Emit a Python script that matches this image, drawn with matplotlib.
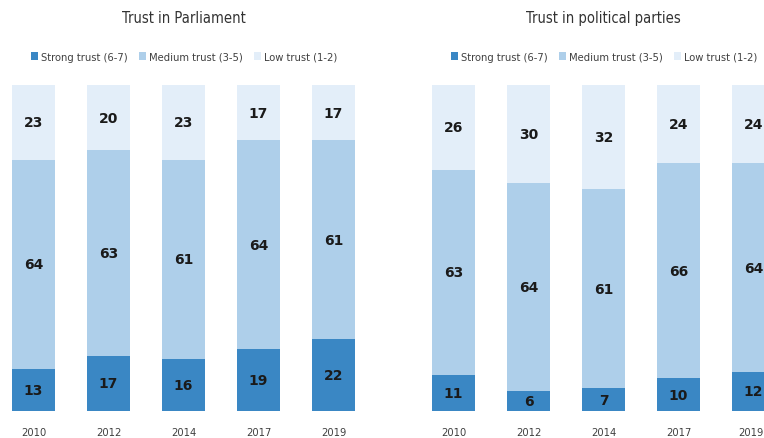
import numpy as np
import matplotlib.pyplot as plt
from matplotlib.patches import Patch
from matplotlib.transforms import blended_transform_factory, ScaledTranslation

years = ['2010', '2012', '2014', '2017', '2019']

parl_strong = [13, 17, 16, 19, 22]
parl_medium = [64, 63, 61, 64, 61]
parl_low = [23, 20, 23, 17, 17]

party_strong = [11, 6, 7, 10, 12]
party_medium = [63, 64, 61, 66, 64]
party_low = [26, 30, 32, 24, 24]

labels = ['Strong trust (6-7)', 'Medium trust (3-5)', 'Low trust (1-2)']
colors = ['#3a87c4', '#aecfea', '#e3eef9']

plt.rcParams['font.family'] = ['DejaVu Sans']
plt.rcParams['font.stretch'] = 'condensed'

W, H = 764, 439


def draw_panel(ax, title, strong, medium, low, legend_x):
	x = np.arange(len(years))
	bottom = np.zeros(len(years))
	for vals, col in zip([strong, medium, low], colors):
		vals = np.array(vals)
		ax.bar(x, vals, bottom=bottom, width=0.573, color=col, edgecolor='none')
		for xi, b, v in zip(x, bottom, vals):
			ax.text(xi, b + v / 2, str(v), ha='center', va='center',
				fontsize=10, fontweight='bold', color='#1a1a1a', stretch='normal')
		bottom = bottom + vals
	ax.set_ylim(0, 100)
	ax.set_xticks(x)
	ax.set_xticklabels(years, fontsize=8, color='#404040')
	ax.tick_params(length=0, pad=11.5)
	ax.set_yticks([])
	for s in ax.spines.values():
		s.set_visible(False)
	trans = blended_transform_factory(ax.transData, ax.transAxes)
	ax.text(2, 1.206, title, transform=trans, ha='center', va='center',
		fontsize=10.5, color='#333333')
	handles = [Patch(facecolor=c, edgecolor='none') for c in colors]
	ax.legend(handles, labels, ncol=3, loc='center left', bbox_to_anchor=(legend_x, 1.086),
		frameon=False, fontsize=8, handlelength=0.65, handleheight=0.65,
		handletextpad=0.25, columnspacing=1.0, borderpad=0, borderaxespad=0,
		labelcolor='#404040')


fig = plt.figure(figsize=(W / 100, H / 100), dpi=100)
bot = (H - 412) / H
hgt = (412 - 86) / H

ax1 = fig.add_axes([0, bot, 382 / W, hgt])
ax2 = fig.add_axes([382 / W, bot, 382 / W, hgt])

draw_panel(ax1, 'Trust in Parliament', parl_strong, parl_medium, parl_low, 31 / 382)
draw_panel(ax2, 'Trust in political parties', party_strong, party_medium, party_low, 69 / 382)

ax1.set_xlim(-0.4467, -0.4467 + 382 / 75)
ax2.set_xlim(-0.9533, -0.9533 + 382 / 75)

# last year label sits at the right edge, nudge it in so it isn't clipped
fig.canvas.draw()
last = ax2.get_xticklabels()[-1]
last.set_transform(last.get_transform() + ScaledTranslation(-2.5 / 100, 0, fig.dpi_scale_trans))

fig.savefig('out.png', dpi=100)
